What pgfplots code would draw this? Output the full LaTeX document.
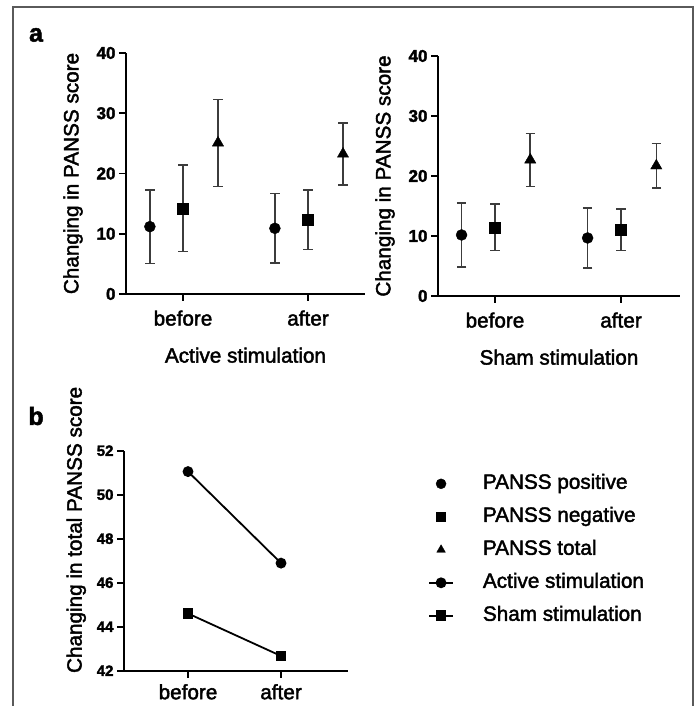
\documentclass[border=0pt]{standalone}
\usepackage{pgfplots}
\pgfplotsset{compat=1.18}
\usepackage{pgfplotstable}
\usepackage{fontspec}
\setmainfont{Liberation Sans}[FakeBold=2]
\definecolor{errgray}{HTML}{3C3C3C}
\definecolor{framegray}{HTML}{5A5A5A}

\pgfplotsset{
  panel/.style={
    scale only axis,
    axis lines=left,
    axis line style={-, line width=2pt},
    tick style={line width=1.8pt, black},
    tick align=outside,
    major tick length=7pt,
    /pgf/number format/assume math mode=true,
    yticklabel style={font=\fontsize{17}{20}\selectfont\bfseries},
    xticklabel style={font=\fontsize{20.7}{24}\selectfont, yshift=-6pt},
    label style={font=\fontsize{20.7}{24}\selectfont},
    xlabel style={yshift=-15pt},
    ylabel style={yshift=7pt},
    xtick={1,2}, xticklabels={before,after},
  },
  ebar/.style={only marks, black, mark options={black, solid},
    error bars/y dir=both, error bars/y explicit,
    error bars/error bar style={errgray, line width=1.6pt},
    error bars/error mark options={rotate=90, errgray, line width=1.6pt, mark size=4.75pt}},
}

% active stimulation: x  mean  sd
\pgfplotstableread{
x     y      e
0.735 11.18  6.09
1.735 10.90  5.80
}\actpos
\pgfplotstableread{
x     y      e
1.00  14.22  7.14
2.00  12.34  4.93
}\actneg
\pgfplotstableread{
x     y      e
1.28  25.09  7.22
2.28  23.24  5.15
}\acttot
% sham stimulation
\pgfplotstableread{
x     y      e
0.735 10.17  5.33
1.735  9.67  5.00
}\shampos
\pgfplotstableread{
x     y      e
1.00  11.45  3.84
2.00  11.03  3.42
}\shamneg
\pgfplotstableread{
x     y      e
1.28  22.69  4.41
2.28  21.70  3.70
}\shamtot

\begin{document}
\begin{tikzpicture}
\useasboundingbox (0pt,0pt) rectangle (696pt,706pt);
\draw[framegray, line width=1.3pt] (13pt,0pt) -- (13pt,699pt) -- (693pt,699pt) -- (693pt,0pt);

\node[font=\fontsize{25}{30}\selectfont\bfseries] at (36pt,671pt) {a};
\node[font=\fontsize{25}{30}\selectfont\bfseries] at (36pt,290pt) {b};

% panel a, active
\begin{axis}[panel,
  at={(126pt,412pt)}, anchor=south west,
  width=239pt, height=241pt,
  xmin=0.544, xmax=2.456, ymin=0, ymax=40,
  ytick={0,10,20,30,40},
  ylabel={Changing in PANSS score},
  xlabel={Active stimulation},
]
\addplot[ebar, mark=*, mark size=5.5pt] table[x=x, y=y, y error=e] {\actpos};
\addplot[ebar, mark=square*, mark size=5.5pt] table[x=x, y=y, y error=e] {\actneg};
\addplot[ebar, mark=triangle*, mark size=6.5pt] table[x=x, y=y, y error=e] {\acttot};
\end{axis}

% panel a, sham
\begin{axis}[panel,
  at={(438pt,410pt)}, anchor=south west,
  width=242pt, height=240pt,
  xmin=0.548, xmax=2.468, ymin=0, ymax=40,
  ytick={0,10,20,30,40},
  ylabel={Changing in PANSS score},
  xlabel={Sham stimulation},
]
\addplot[ebar, mark=*, mark size=5.5pt] table[x=x, y=y, y error=e] {\shampos};
\addplot[ebar, mark=square*, mark size=5.5pt] table[x=x, y=y, y error=e] {\shamneg};
\addplot[ebar, mark=triangle*, mark size=6.5pt] table[x=x, y=y, y error=e] {\shamtot};
\end{axis}

% panel b
\begin{axis}[panel,
  at={(124pt,35.3pt)}, anchor=south west,
  width=224pt, height=220pt,
  xmin=0.312, xmax=2.72, ymin=42, ymax=52,
  ytick={42,44,46,48,50,52},
  yticklabel style={font=\fontsize{15}{18}\selectfont\bfseries},
  xticklabel style={yshift=3pt},
  ylabel={Changing in total PANSS score},
  ylabel style={at={(ticklabel cs:0.64)}, yshift=-3pt},
  legend image code/.code={\draw[mark repeat=2, mark phase=2, #1] plot coordinates {(0pt,0pt)(12pt,0pt)(24pt,0pt)};},
  legend style={at={(axis description cs:1.357,0.905)}, anchor=north west,
    draw=none, fill=none, inner sep=0pt,
    font=\fontsize{20.7}{24}\selectfont,
    nodes={inner sep=2pt, text height=15pt, text depth=5pt},
    row sep=9pt, column sep=0pt, cells={anchor=west},
    /tikz/every odd column/.append style={column sep=27pt}},
]
\addlegendimage{only marks, mark=*, mark size=5pt}
\addlegendentry{PANSS positive}
\addlegendimage{only marks, mark=square*, mark size=4.5pt}
\addlegendentry{PANSS negative}
\addlegendimage{only marks, mark=triangle*, mark size=5pt}
\addlegendentry{PANSS total}
\addplot[black, line width=1.8pt, mark=*, mark size=4.5pt, mark options={solid}]
  coordinates {(1,51.05)(2,46.89)};
\addlegendentry{Active stimulation}
\addplot[black, line width=1.8pt, mark=square*, mark size=4.5pt, mark options={solid}]
  coordinates {(1,44.60)(2,42.67)};
\addlegendentry{Sham stimulation}
\end{axis}
\end{tikzpicture}
\end{document}
